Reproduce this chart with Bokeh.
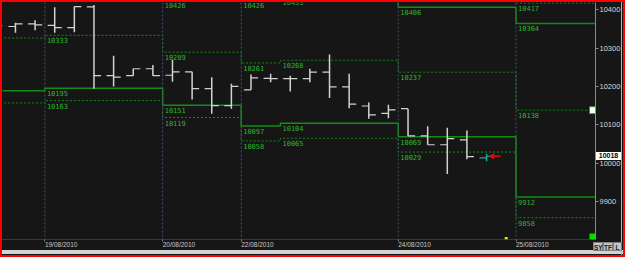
import math
from bokeh.plotting import figure
from bokeh.layouts import column
from bokeh.models import (Range1d, FixedTicker, Span, Arrow, NormalHead, ColumnDataSource, Div)
from bokeh.core.properties import value
from bokeh.embed import file_html
from bokeh.resources import INLINE

# ---------------- data ----------------
bar_index = list(range(-1, 25))
opens  = [10350, 10356, 10363, 10359, 10353, 10407, 10228, 10228, 10246, 10229, 10238, 10194, 10150,
          10191, 10221, 10220, 10220, 10237, 10199, 10149, 10130, 10142, 10071, 10048, 10061, 10014]
highs  = [10362, 10366, 10372, 10406, 10408, 10412, 10280, 10246, 10256, 10269, 10238, 10224, 10207,
          10231, 10233, 10228, 10246, 10283, 10233, 10158, 10152, 10142, 10096, 10092, 10085, 10024]
lows   = [10340, 10340, 10346, 10340, 10341, 10194, 10200, 10228, 10228, 10212, 10166, 10129, 10142,
          10191, 10211, 10187, 10211, 10170, 10143, 10116, 10117, 10071, 10048, 9972, 10010, 10005]
closes = [10358, 10363, 10360, 10353, 10408, 10228, 10224, 10246, 10228, 10238, 10194, 10150, 10200,
          10222, 10220, 10220, 10237, 10199, 10154, 10126, 10139, 10071, 10048, 10064, 10017, 10018]

# session boundaries (in bar-index units) and level values per session
seg_starts = [-2.0, 1.5, 7.5, 11.5, 13.5, 19.5, 25.5]
seg_ends   = [1.5, 7.5, 11.5, 13.5, 19.5, 25.5, 31.0]
NaN = float("nan")
lvl_a = [10326, 10333, 10289, 10261, 10268, 10237, 10138]   # dotted
lvl_b = [10189, 10195, 10151, 10097, 10104, 10069, 9912]    # solid
lvl_c = [10157, 10163, 10119, 10058, 10065, 10029, 9858]    # dotted
lvl_d = [NaN, NaN, 10426, 10426, 10433, 10406, 10364]       # solid
lvl_e = [NaN, NaN, NaN, NaN, NaN, NaN, 10417]               # dotted

day_bounds = [1.5, 7.5, 11.5, 19.5, 25.5]
day_labels = ["19/08/2010", "20/08/2010", "22/08/2010", "24/08/2010", "25/08/2010"]
y_ticks = [9800, 9900, 10000, 10100, 10200, 10300, 10400]
buttons = ["SY", "TF", "L"]

# ---------------- figure ----------------
X_RANGE = (-0.66, 29.55)
Y_RANGE = (9801.3, 10418.5)
BG = "#161616"

p = figure(width=625, height=257, x_range=Range1d(*X_RANGE), y_range=Range1d(*Y_RANGE),
           output_backend="svg", toolbar_location=None, y_axis_location="right",
           min_border_left=2, min_border_top=2, min_border_right=30, min_border_bottom=18,
           background_fill_color=BG, border_fill_color=None)
p.outline_line_color = None
p.grid.visible = False
p.styles = {
    "outline": "2px solid #ff0000",
    "outline-offset": "-2px",
    "background": ("linear-gradient(to right, transparent 621px, #b4b4b4 621px, #b4b4b4 622px, "
                   "transparent 622px), linear-gradient(to bottom, #161616 250px, #d4d4d4 250px, "
                   "#d4d4d4 254px, #161616 254px)"),
}

ya = p.yaxis[0]
ya.ticker = FixedTicker(ticks=y_ticks)
ya.major_label_text_font = "Liberation Sans"
ya.major_label_text_font_size = "7.5px"
ya.major_label_text_color = "#d8d8d8"
ya.axis_line_color = "#8a8a8a"
ya.major_tick_line_color = "#8a8a8a"
ya.major_tick_out = 3
ya.major_tick_in = 0
ya.minor_tick_line_color = None
ya.major_label_standoff = 1

xa = p.xaxis[0]
xa.ticker = FixedTicker(ticks=day_bounds)
xa.major_label_overrides = {b: t for b, t in zip(day_bounds, day_labels)}
xa.major_label_orientation = -0.0001
xa.major_label_text_font = "Liberation Sans"
xa.major_label_text_font_size = "6.5px"
xa.major_label_text_color = "#c8c8c8"
xa.axis_line_color = "#5a5a5a"
xa.axis_line_dash = "1 1"
xa.major_tick_line_color = "#7a7a7a"
xa.major_tick_out = 2
xa.major_tick_in = 0
xa.minor_tick_line_color = None
xa.major_label_standoff = 3

# day separators
for b in day_bounds:
    p.add_layout(Span(location=b, dimension="height", line_color="#46546e",
                      line_dash="2 2", line_width=1))

# level step lines
def step_xy(vals):
    xs, ys = [], []
    for s, e, v in zip(seg_starts, seg_ends, vals):
        xs += [s, e]
        ys += [v, v]
    return xs, ys

GREEN_LINE = "#128c12"
for vals, dash, lw in [(lvl_a, "2 2", 1), (lvl_b, "solid", 1.5), (lvl_c, "2 2", 1),
                       (lvl_d, "solid", 1.5), (lvl_e, "2 2", 1)]:
    xs, ys = step_xy(vals)
    p.line(xs, ys, line_color=GREEN_LINE, line_dash=dash, line_width=lw)

# level labels (sessions whose start is visible)
lx, ly, lt = [], [], []
for vals in [lvl_a, lvl_b, lvl_c, lvl_d, lvl_e]:
    for s, v in zip(seg_starts, vals):
        if s >= X_RANGE[0] and not math.isnan(v):
            lx.append(s); ly.append(v); lt.append(str(int(v)))
p.text(x=lx, y=ly, text=lt, text_font=value("DejaVu Sans Mono"), text_font_size="7px",
       text_color="#2fb52f", text_baseline="top", text_align="left", x_offset=2, y_offset=2)

# OHLC bars
TICK = 0.36
colors = ["#d2d2d2"] * (len(bar_index) - 1) + ["#1fa5a5"]
src = ColumnDataSource(dict(
    x=bar_index, o=opens, h=highs, l=lows, c=closes, col=colors,
    xl=[i - TICK for i in bar_index], xr=[i + TICK for i in bar_index]))
p.segment(x0="x", y0="l", x1="x", y1="h", source=src, line_color="col", line_width=1.5)
p.segment(x0="xl", y0="o", x1="x", y1="o", source=src, line_color="col", line_width=1.2)
p.segment(x0="x", y0="c", x1="xr", y1="c", source=src, line_color="col", line_width=1.2)

# current price arrow
last = bar_index[-1]
p.add_layout(Arrow(end=NormalHead(size=5, fill_color="#c81414", line_color="#c81414"),
                   x_start=last + 0.72, y_start=closes[-1], x_end=last + 0.12, y_end=closes[-1],
                   line_color="#c81414", line_width=1.5))

# small markers
p.rect(x=[X_RANGE[1]], y=[lvl_a[-1]], width=12, height=7, width_units="screen",
       height_units="screen", fill_color="#ffffff", line_color="#20a020")
p.rect(x=[X_RANGE[1]], y=[Y_RANGE[0]], width=12, height=12, width_units="screen",
       height_units="screen", fill_color="#00e000", line_color=None)
p.rect(x=[last + 1], y=[Y_RANGE[0]], width=3, height=5, width_units="screen",
       height_units="screen", fill_color="#e8e000", line_color=None)

# overlay: current price box on the axis and the corner buttons
frame_top, frame_h, canvas_h = 2, 237, 257
price_y = frame_top + (Y_RANGE[1] - closes[-1]) / (Y_RANGE[1] - Y_RANGE[0]) * frame_h
btn_html = "".join(
    f'<span style="display:inline-block;width:{w}px;height:9px;line-height:9px;'
    f'text-align:center;background:#c4c4c4;border:1px solid #808080;box-sizing:border-box;">'
    f'{t}</span>'
    for t, w in zip(buttons, [10, 10, 9]))
overlay = (
    f'<div style="position:absolute;left:596px;top:{price_y - 3.6 - canvas_h:.1f}px;width:25px;'
    f'height:7.5px;line-height:7.5px;background:#ffffff;color:#000;font:bold 7px Liberation Sans;'
    f'text-align:center;">{closes[-1]}</div>'
    f'<div style="position:absolute;left:593px;top:{242 - canvas_h}px;white-space:nowrap;'
    f'line-height:9px;color:#202020;font:bold 6.5px Liberation Sans;">{btn_html}</div>')
div = Div(text=overlay, width=625, height=0, margin=0, styles={"overflow": "visible"})

layout = column(p, div, spacing=0)
open("out.html", "w").write(file_html(layout, INLINE))
